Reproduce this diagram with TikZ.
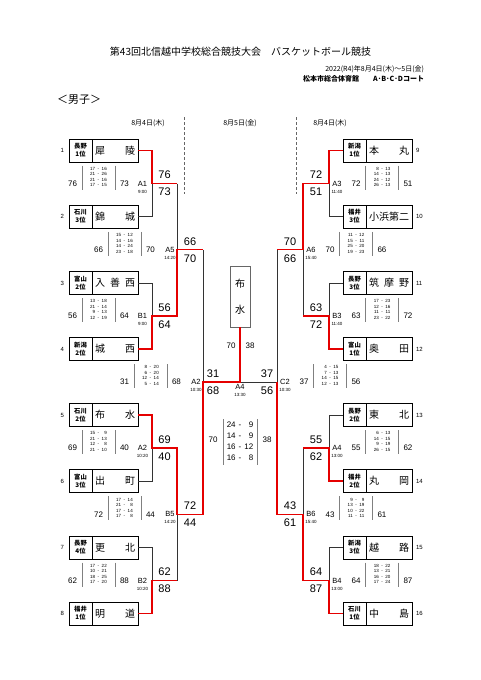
\documentclass[tikz,border=0pt]{standalone}
\usepackage{fontspec}
\setmainfont{Liberation Sans}
\newfontfamily\jp{Noto Sans CJK JP}
\usetikzlibrary{positioning}

\newcommand{\tmname}[1]{\makebox[40pt][s]{#1}}
\newcommand{\gamescore}[5]{%
  \node[pts] (#1u) at (#2,#3-8.5) {#4};
  \node[pts] (#1d) at (#2,#3+8.5) {#5};
}
\newcommand{\gameboard}[9]{%
  \node[qtr] (#1q) at (#2,#3-6) {\begin{tabular}{@{}r@{\hspace{2.5pt}-\hspace{2.5pt}}r@{}}#6\end{tabular}};
  \draw[qbar] (#1q.north west) -- (#1q.south west) (#1q.north east) -- (#1q.south east);
  \node[sum, anchor=east] (#1l) at (#2-21.5,#3) {#4};
  \node[sum, anchor=west] (#1r) at (#2+21.5,#3) {#5};
  \node[game] (#1m) at (#9,#3) {#7};
  \node[clock] (#1t) at (#9,#3+8) {#8};
}

\begin{document}
\begin{tikzpicture}[
    x=1pt, y=-1pt,
    every node/.style={inner sep=0pt, outer sep=0pt},
    win/.style={red!90!black, line width=1.3pt},
    lose/.style={black!80, line width=0.8pt},
    pref/.style={draw, line width=0.9pt, minimum width=23pt, minimum height=23pt, align=center,
        font=\jp\bfseries\fontsize{6.3}{8}\selectfont},
    tname/.style={draw, line width=0.9pt, minimum width=46pt, minimum height=23pt,
        font=\jp\fontsize{10}{12}\selectfont},
    seed/.style={font=\fontsize{6}{7}\selectfont},
    pts/.style={font=\fontsize{11}{12}\selectfont},
    sum/.style={font=\fontsize{8}{9}\selectfont},
    qtr/.style={minimum width=33pt, minimum height=24pt, font=\fontsize{4.5}{5.5}\selectfont},
    qtrbig/.style={minimum width=34pt, minimum height=46pt, font=\fontsize{8}{10.8}\selectfont},
    qbar/.style={black!50, line width=0.4pt},
    game/.style={font=\fontsize{7.5}{8}\selectfont},
    clock/.style={font=\fontsize{4.5}{5}\selectfont},
    day/.style={font=\jp\fontsize{7}{8}\selectfont},
    divider/.style={black!60, line width=0.6pt, densely dashed},
    champ/.style={draw=black!60, line width=0.6pt, minimum width=20pt, minimum height=61pt, align=center,
        font=\jp\fontsize{10}{26}\selectfont}
  ]
  \fill[white] (0,0) rectangle (481,680);
  \useasboundingbox (0,0) rectangle (481,680);

  \node[font=\jp\fontsize{10}{12}\selectfont] (title) at (240.5,52) {第43回北信越中学校総合競技大会　バスケットボール競技};
  \node[font=\jp\fontsize{7}{8}\selectfont, anchor=east] (date) at (424,69) {2022(R4)年8月4日(木)～5日(金)};
  \node[font=\jp\bfseries\fontsize{7}{8}\selectfont, anchor=east] (venue) at (424,78.5) {松本市総合体育館　　A･B･C･Dコート};
  \node[font=\jp\fontsize{11}{13}\selectfont, anchor=west] (boys) at (57,100) {＜男子＞};

  \node[day] (day1) at (148,123) {8月4日(木)};
  \node[day] (day2) at (240,123) {8月5日(金)};
  \node[day] (day3) at (330,123) {8月4日(木)};
  \draw[divider] (184,117) -- (184,194);
  \draw[divider] (296,117) -- (296,194);

  % teams
  \foreach \i/\y/\pr/\nm in {1/150.5/長野\\1位/犀\hfill 陵, 2/216.5/石川\\3位/錦\hfill 城,
      3/283/富山\\2位/入\hfill 善\hfill 西, 4/349/新潟\\2位/城\hfill 西,
      5/415/石川\\2位/布\hfill 水, 6/481/富山\\3位/出\hfill 町,
      7/547.5/長野\\4位/更\hfill 北, 8/613.5/福井\\1位/明\hfill 道}{
    \node[pref] (p\i) at (80.5,\y) {\pr};
    \node[tname, right=0pt of p\i] (t\i) {\tmname{\nm}};
    \node[seed, left=5pt of p\i] (n\i) {\i};
  }
  \foreach \i/\y/\pr/\nm in {9/150.5/新潟\\1位/本\hfill 丸, 10/216.5/福井\\3位/小\hfill 浜\hfill 第\hfill 二,
      11/283/長野\\3位/筑\hfill 摩\hfill 野, 12/349/富山\\1位/奥\hfill 田,
      13/415/長野\\2位/東\hfill 北, 14/481/福井\\2位/丸\hfill 岡,
      15/547.5/新潟\\3位/越\hfill 路, 16/613.5/石川\\1位/中\hfill 島}{
    \node[pref] (p\i) at (354.5,\y) {\pr};
    \node[tname, right=0pt of p\i] (t\i) {\tmname{\nm}};
    \node[seed, right=4pt of t\i] (n\i) {\i};
  }

  \node[champ] (champ) at (240,296.5) {布\\水};

  \coordinate (gA1) at (152,183.5);
  \coordinate (gB1) at (152,316);
  \coordinate (gA2) at (152,448);
  \coordinate (gB2) at (152,580.5);
  \coordinate (gA5) at (177,249.75);
  \coordinate (gB5) at (177,514.25);
  \coordinate (gSL) at (203,382);
  \coordinate (gA3) at (329,183.5);
  \coordinate (gB3) at (329,316);
  \coordinate (gA4) at (329,448);
  \coordinate (gB4) at (329,580.5);
  \coordinate (gA6) at (303,249.75);
  \coordinate (gB6) at (303,514.25);
  \coordinate (gSR) at (277,382);
  \coordinate (gF) at (240,382);

  \draw[lose] (t2.east) -| (gA1);
  \draw[lose] (t3.east) -| (gB1);
  \draw[lose] (t6.east) -| (gA2);
  \draw[lose] (t7.east) -| (gB2);
  \draw[lose] (gA1 -| gA5) -- (gA5);
  \draw[lose] (gB2 -| gB5) -- (gB5);
  \draw[lose] (gA5 -| gSL) -- (gSL);
  \draw[lose] (p10.west) -| (gA3);
  \draw[lose] (p11.west) -| (gB3);
  \draw[lose] (p13.west) -| (gA4);
  \draw[lose] (p15.west) -| (gB4);
  \draw[lose] (gB3 -| gA6) -- (gA6);
  \draw[lose] (gA4 -| gB6) -- (gB6);
  \draw[lose] (gA6 -| gSR) -- (gSR) -- (gF);

  \draw[win] (t1.east) -| (gA1) -- (gA1 -| gA5);
  \draw[win] (t4.east) -| (gB1) -- (gB1 -| gA5) -- (gA5) -- (gA5 -| gSL);
  \draw[win] (t5.east) -| (gA2) -- (gA2 -| gB5) -- (gB5) -- (gB5 -| gSL) -- (gSL) -- (gF) -- (champ.south);
  \draw[win] (t8.east) -| (gB2) -- (gB2 -| gB5);
  \draw[win] (p9.west) -| (gA3) -- (gA3 -| gA6) -- (gA6) -- (gA6 -| gSR);
  \draw[win] (p12.west) -| (gB3) -- (gB3 -| gA6);
  \draw[win] (p14.west) -| (gA4) -- (gA4 -| gB6);
  \draw[win] (p16.west) -| (gB4) -- (gB4 -| gB6) -- (gB6) -- (gB6 -| gSR) -- (gSR);

  \gamescore{rA1}{164.5}{183.5}{76}{73}
  \gamescore{rB1}{164.5}{316}{56}{64}
  \gamescore{rA2}{164.5}{448}{69}{40}
  \gamescore{rB2}{164.5}{580.5}{62}{88}
  \gamescore{rA5}{190}{249.75}{66}{70}
  \gamescore{rB5}{190}{514.25}{72}{44}
  \gamescore{rSL}{213}{382}{31}{68}
  \gamescore{rA3}{316}{183.5}{72}{51}
  \gamescore{rB3}{316}{316}{63}{72}
  \gamescore{rA4}{316}{448}{55}{62}
  \gamescore{rB4}{316}{580.5}{64}{87}
  \gamescore{rA6}{290}{249.75}{70}{66}
  \gamescore{rB6}{290}{514.25}{43}{61}
  \gamescore{rSR}{267}{382}{37}{56}

  \gameboard{A1}{98.5}{183.5}{76}{73}{17&16\\21&26\\21&16\\17&15}{A1}{9:00}{142.5}
  \gameboard{B1}{98.5}{316}{56}{64}{13&18\\21&14\\9&13\\12&19}{B1}{9:00}{142.5}
  \gameboard{A2}{98.5}{448}{69}{40}{15&9\\21&13\\12&8\\21&10}{A2}{10:20}{142.5}
  \gameboard{B2}{98.5}{580.5}{62}{88}{17&22\\10&21\\18&25\\17&20}{B2}{10:20}{142.5}
  \gameboard{A5}{124.5}{249.75}{66}{70}{15&12\\14&16\\14&24\\23&18}{A5}{14:20}{170}
  \gameboard{B5}{124.5}{514.25}{72}{44}{17&14\\21&8\\17&14\\17&8}{B5}{14:20}{170}
  \gameboard{SL}{150.5}{382}{31}{68}{8&20\\6&20\\12&14\\5&14}{A2}{10:30}{196}
  \gameboard{A3}{382}{183.5}{72}{51}{8&13\\14&13\\24&12\\26&13}{A3}{11:40}{337}
  \gameboard{B3}{382}{316}{63}{72}{17&23\\12&16\\11&11\\23&22}{B3}{11:40}{337}
  \gameboard{A4}{382}{448}{55}{62}{6&13\\14&15\\9&19\\26&15}{A4}{13:00}{337}
  \gameboard{B4}{382}{580.5}{64}{87}{18&22\\13&21\\16&20\\17&24}{B4}{13:00}{337}
  \gameboard{A6}{356}{249.75}{70}{66}{11&12\\15&11\\25&20\\19&23}{A6}{15:40}{311}
  \gameboard{B6}{356}{514.25}{43}{61}{9&9\\13&19\\10&22\\11&11}{B6}{15:40}{311}
  \gameboard{SR}{330}{382}{37}{56}{4&15\\7&13\\14&15\\12&13}{C2}{10:30}{285}

  % final
  \node[game] (fm) at (240,387) {A4};
  \node[clock] (ft) at (240,395) {13:30};
  \node[sum] (cl) at (231,346) {70};
  \node[sum] (cr) at (250,346) {38};
  \node[qtrbig] (fq) at (240,442) {\begin{tabular}{@{}r@{\hspace{3pt}-\hspace{3pt}}r@{}}24&9\\14&9\\16&12\\16&8\end{tabular}};
  \draw[qbar] (fq.north west) -- (fq.south west) (fq.north east) -- (fq.south east);
  \node[sum] (fl) at (213,440) {70};
  \node[sum] (fr) at (267,440) {38};
\end{tikzpicture}
\end{document}
